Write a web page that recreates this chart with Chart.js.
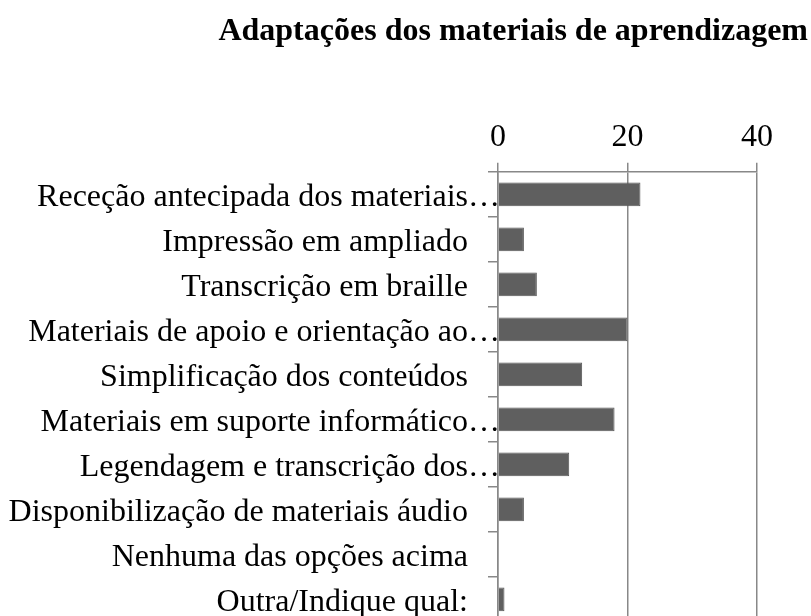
<!DOCTYPE html>
<html>
<head>
<meta charset="utf-8">
<script src="https://cdn.jsdelivr.net/npm/chart.js@4/dist/chart.umd.min.js"></script>
<style>
  html, body { margin: 0; padding: 0; overflow: hidden; background: #fff; }
  #wrap { width: 811px; height: 629px; }
</style>
</head>
<body>
<div id="wrap"><canvas id="Chart"></canvas></div>
<script>
const chartTitle = 'Adaptações dos materiais de aprendizagem';

const categories = [
    'Receção antecipada dos materiais…',
    'Impressão em ampliado',
    'Transcrição em braille',
    'Materiais de apoio e orientação ao…',
    'Simplificação dos conteúdos',
    'Materiais em suporte informático…',
    'Legendagem e transcrição dos…',
    'Disponibilização de materiais áudio',
    'Nenhuma das opções acima',
    'Outra/Indique qual:'
];

const respostas = [22, 4, 6, 20, 13, 18, 11, 4, 0, 1];

const axisMin = 0;
const axisMax = 40;
const axisStep = 20;

const serif = "'Liberation Serif', 'Times New Roman', serif";
const gridColor = '#888888';

function main() {
    let ctx = document.getElementById('Chart');
    new Chart(ctx, {
        type: 'bar',
        data: {
            labels: categories,
            datasets: [{
                data: respostas,
                backgroundColor: '#5f5f5f',
                borderColor: '#555555',
                borderWidth: 1,
                barPercentage: 0.53,
                categoryPercentage: 1
            }]
        },
        options: {
            indexAxis: 'y',
            responsive: true,
            maintainAspectRatio: false,
            animation: false,
            layout: { padding: { top: 0, right: 3, bottom: 0, left: 0 } },
            plugins: {
                legend: { display: false },
                tooltip: { enabled: false },
                title: {
                    display: true,
                    text: chartTitle,
                    align: 'end',
                    color: '#000',
                    font: { family: serif, size: 32, weight: 'bold' },
                    padding: { top: 13, bottom: 61 }
                }
            },
            scales: {
                x: {
                    position: 'top',
                    min: axisMin,
                    max: axisMax,
                    ticks: {
                        stepSize: axisStep,
                        color: '#000',
                        font: { family: serif, size: 32 },
                        padding: 6
                    },
                    grid: {
                        color: gridColor,
                        lineWidth: 1.5,
                        tickLength: 9
                    },
                    border: { color: gridColor, width: 1.5 },
                    // keep the plot narrow like the original, title still runs to the edge
                    afterFit: s => { s.paddingRight = 54; }
                },
                y: {
                    ticks: {
                        color: '#000',
                        font: { family: serif, size: 32 },
                        padding: -12,
                        labelOffset: 3,
                        callback: function (v) {
                            let t = this.getLabelForValue(v);
                            return t.endsWith('…') ? t : t + '    ';
                        }
                    },
                    grid: {
                        offset: true,
                        drawOnChartArea: false,
                        color: gridColor,
                        lineWidth: 1.5,
                        tickLength: 10
                    },
                    border: { color: gridColor, width: 1.5 },
                    afterFit: s => { s.width = 498; }
                }
            }
        }
    });
}

main();
</script>
</body>
</html>
